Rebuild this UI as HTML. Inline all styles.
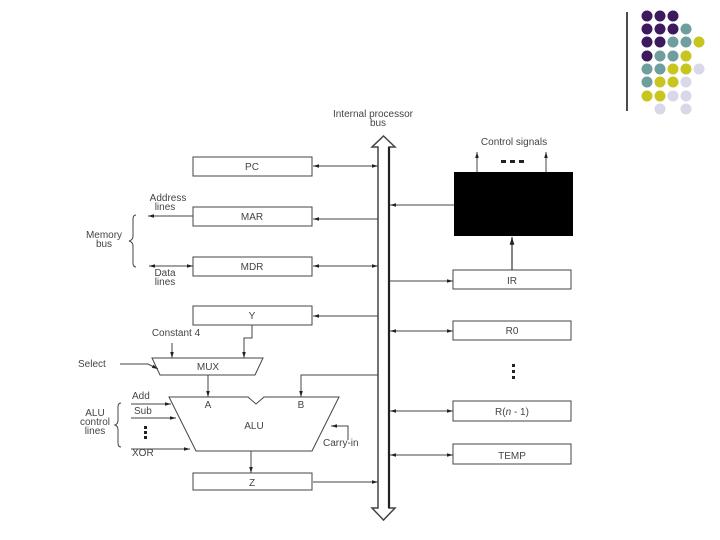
<!DOCTYPE html>
<html><head><meta charset="utf-8"><style>
html,body{margin:0;padding:0;background:#fff;width:720px;height:540px;overflow:hidden}
text{font-family:"Liberation Sans",sans-serif;fill:#444}
</style></head><body>
<svg width="720" height="540" viewBox="0 0 720 540" xmlns="http://www.w3.org/2000/svg">
<defs>
<marker id="a" viewBox="0 0 10 10" refX="10" refY="5" markerWidth="9" markerHeight="6" orient="auto-start-reverse"><path d="M0,2 L10,5 L0,8z" fill="#222"/></marker>
</defs>
<line x1="627" y1="12" x2="627" y2="111" stroke="#111" stroke-width="1.5"/>
<g>
<circle cx="647" cy="16" r="5.5" fill="#3d1a5e"/><circle cx="660" cy="16" r="5.5" fill="#3d1a5e"/><circle cx="673" cy="16" r="5.5" fill="#3d1a5e"/>
<circle cx="647" cy="29" r="5.5" fill="#3d1a5e"/><circle cx="660" cy="29" r="5.5" fill="#3d1a5e"/><circle cx="673" cy="29" r="5.5" fill="#3d1a5e"/><circle cx="686" cy="29" r="5.5" fill="#6f9e9e"/>
<circle cx="647" cy="42" r="5.5" fill="#3d1a5e"/><circle cx="660" cy="42" r="5.5" fill="#3d1a5e"/><circle cx="673" cy="42" r="5.5" fill="#6f9e9e"/><circle cx="686" cy="42" r="5.5" fill="#6f9e9e"/><circle cx="699" cy="42" r="5.5" fill="#c8c51e"/>
<circle cx="647" cy="56" r="5.5" fill="#3d1a5e"/><circle cx="660" cy="56" r="5.5" fill="#6f9e9e"/><circle cx="673" cy="56" r="5.5" fill="#6f9e9e"/><circle cx="686" cy="56" r="5.5" fill="#c8c51e"/>
<circle cx="647" cy="69" r="5.5" fill="#6f9e9e"/><circle cx="660" cy="69" r="5.5" fill="#6f9e9e"/><circle cx="673" cy="69" r="5.5" fill="#c8c51e"/><circle cx="686" cy="69" r="5.5" fill="#c8c51e"/><circle cx="699" cy="69" r="5.5" fill="#d8d8e8"/>
<circle cx="647" cy="82" r="5.5" fill="#6f9e9e"/><circle cx="660" cy="82" r="5.5" fill="#c8c51e"/><circle cx="673" cy="82" r="5.5" fill="#c8c51e"/><circle cx="686" cy="82" r="5.5" fill="#d8d8e8"/>
<circle cx="647" cy="96" r="5.5" fill="#c8c51e"/><circle cx="660" cy="96" r="5.5" fill="#c8c51e"/><circle cx="673" cy="96" r="5.5" fill="#d8d8e8"/><circle cx="686" cy="96" r="5.5" fill="#d8d8e8"/>
<circle cx="660" cy="109" r="5.5" fill="#d8d8e8"/><circle cx="686" cy="109" r="5.5" fill="#d8d8e8"/>
</g>
<g stroke="#444" fill="none" stroke-width="1">
<path d="M378,147 L378,508 L372,508 L383.5,520 L395,508 L389,508 L389,147 L395,147 L383.5,136 L372,147 Z" stroke-width="1.5" fill="#fff"/>
<line x1="389" y1="147" x2="389" y2="508" stroke="#222" stroke-width="2.2"/>
<rect x="193" y="157" width="119" height="19"/>
<rect x="193" y="207" width="119" height="19"/>
<rect x="193" y="257" width="119" height="19"/>
<rect x="193" y="306" width="119" height="19"/>
<rect x="193" y="473" width="119" height="17"/>
<rect x="453" y="270" width="118" height="19"/>
<rect x="453" y="321" width="118" height="19"/>
<rect x="453" y="401" width="118" height="20"/>
<rect x="453" y="444" width="118" height="20"/>
<line x1="313" y1="166" x2="378" y2="166" marker-start="url(#a)" marker-end="url(#a)"/>
<line x1="378" y1="219" x2="313" y2="219" marker-end="url(#a)"/>
<line x1="193" y1="216" x2="148" y2="216" marker-end="url(#a)"/>
<line x1="313" y1="266" x2="378" y2="266" marker-start="url(#a)" marker-end="url(#a)"/>
<line x1="149" y1="266" x2="193" y2="266" marker-start="url(#a)" marker-end="url(#a)"/>
<line x1="378" y1="316" x2="313" y2="316" marker-end="url(#a)"/>
<line x1="313" y1="482" x2="378" y2="482" marker-end="url(#a)"/>
<line x1="454" y1="205" x2="390" y2="205" marker-end="url(#a)"/>
<line x1="390" y1="281" x2="453" y2="281" marker-end="url(#a)"/>
<line x1="390" y1="331" x2="453" y2="331" marker-start="url(#a)" marker-end="url(#a)"/>
<line x1="390" y1="411" x2="453" y2="411" marker-start="url(#a)" marker-end="url(#a)"/>
<line x1="390" y1="455" x2="453" y2="455" marker-start="url(#a)" marker-end="url(#a)"/>
<line x1="512" y1="270" x2="512" y2="237" marker-end="url(#a)" stroke-width="1.3"/>
<line x1="477" y1="172" x2="477" y2="152" marker-end="url(#a)"/>
<line x1="546" y1="172" x2="546" y2="152" marker-end="url(#a)"/>
<path d="M136,215 Q133,215 133,219 L133,236 Q133,240 129,241 Q133,242 133,246 L133,263 Q133,267 136,267"/>
<path d="M152,358 L263,358 L255,375 L160,375 Z"/>
<line x1="172" y1="343" x2="172" y2="358" marker-end="url(#a)"/>
<path d="M252,325 L252,338 L244,338 L244,358" marker-end="url(#a)"/>
<path d="M120,364 L148,364 L158,369" marker-end="url(#a)"/>
<line x1="208" y1="375" x2="208" y2="397" marker-end="url(#a)"/>
<path d="M169,397 L248,397 L256,404 L264,397 L339,397 L312,451 L196,451 Z"/>
<path d="M378,375 L301,375 L301,397" marker-end="url(#a)"/>
<line x1="131" y1="404" x2="171" y2="404" marker-end="url(#a)"/>
<line x1="131" y1="418" x2="176" y2="418" marker-end="url(#a)"/>
<line x1="131" y1="449" x2="190" y2="449" marker-end="url(#a)"/>
<path d="M348,440 L348,426 L331,426" marker-end="url(#a)"/>
<line x1="251" y1="451" x2="251" y2="473" marker-end="url(#a)"/>
<path d="M121,403 Q118,403 118,407 L118,420 Q118,424 115,425 Q118,426 118,430 L118,443 Q118,447 121,447"/>
</g>
<rect x="454" y="172" width="119" height="64" fill="#000"/>
<g fill="#222"><rect x="501" y="160" width="5" height="3"/><rect x="510" y="160" width="5" height="3"/><rect x="519" y="160" width="5" height="3"/>
<rect x="144" y="426" width="3" height="3"/><rect x="144" y="431" width="3" height="3"/><rect x="144" y="436" width="3" height="3"/>
<rect x="512" y="364" width="3" height="3"/><rect x="512" y="370" width="3" height="3"/><rect x="512" y="376" width="3" height="3"/></g>
<g font-size="10" text-anchor="middle">
<text x="373" y="117">Internal processor</text><text x="378" y="126">bus</text>
<text x="514" y="145">Control signals</text>
<text x="252" y="170">PC</text><text x="252" y="220">MAR</text><text x="252" y="270">MDR</text><text x="252" y="319">Y</text>
<text x="252" y="486">Z</text>
<text x="512" y="284">IR</text><text x="512" y="334">R0</text><text x="512" y="415">R(<tspan font-style="italic">n</tspan> - 1)</text><text x="512" y="459">TEMP</text>
<text x="168" y="201">Address</text><text x="165" y="210">lines</text>
<text x="104" y="238">Memory</text><text x="104" y="247">bus</text>
<text x="165" y="276">Data</text><text x="165" y="285">lines</text>
<text x="176" y="336">Constant 4</text>
<text x="208" y="370">MUX</text>
<text x="208" y="408">A</text><text x="301" y="408">B</text><text x="254" y="429">ALU</text>
<text x="95" y="416">ALU</text><text x="95" y="425">control</text><text x="95" y="434">lines</text>
</g>
<g font-size="10">
<text x="78" y="367">Select</text>
<text x="132" y="399">Add</text><text x="134" y="414">Sub</text><text x="132" y="456">XOR</text>
<text x="323" y="446">Carry-in</text>
</g>
</svg>
</body></html>
